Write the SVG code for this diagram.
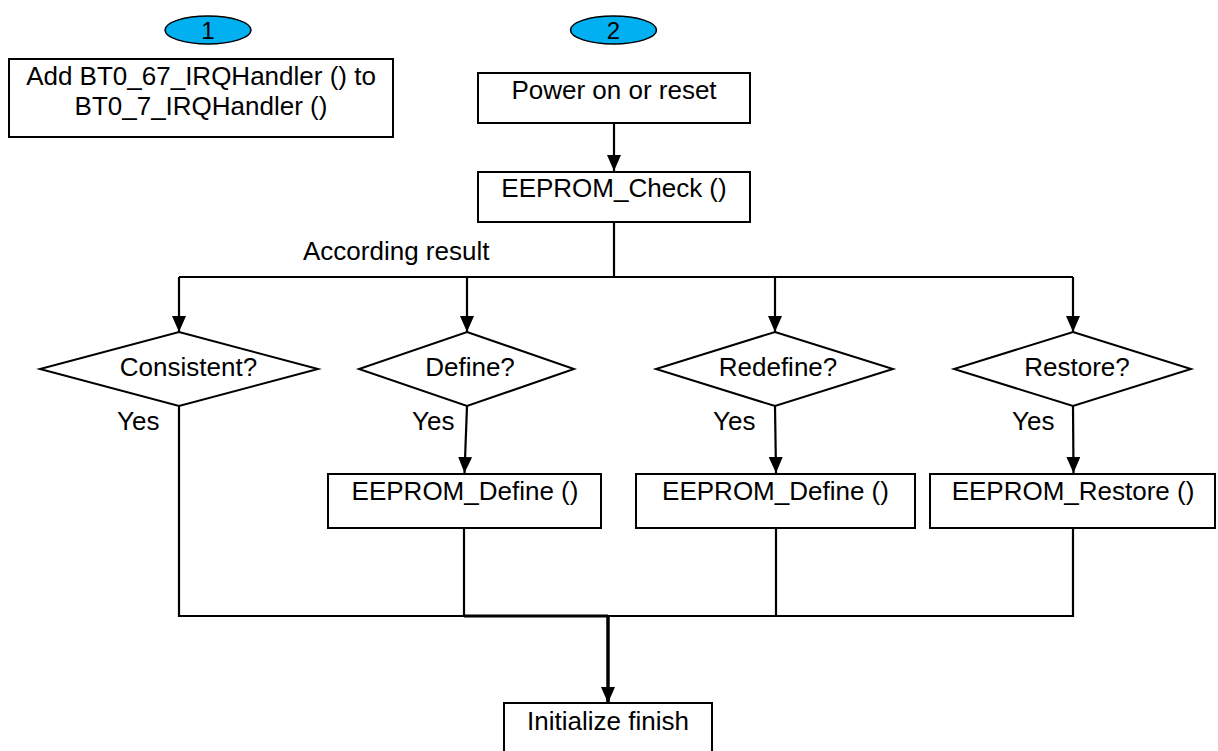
<svg xmlns="http://www.w3.org/2000/svg" width="1218" height="751" viewBox="0 0 1218 751">
<style>
text{font-family:"Liberation Sans",Arial,sans-serif;font-size:26px;fill:#000;}
.c{text-anchor:middle;}
.box{fill:#fff;stroke:#000;stroke-width:2;}
.ell{fill:#00B0F0;stroke:#000;stroke-width:1.5;}
.ln{fill:none;stroke:#000;stroke-width:2.2;}
.thick{fill:none;stroke:#000;stroke-width:3.5;}
.num{font-size:24px;}
</style>
<defs>
<marker id="ah" markerUnits="userSpaceOnUse" markerWidth="16" markerHeight="14" refX="16" refY="7" orient="auto" viewBox="0 0 16 14">
<path d="M0,0 L16,7 L0,14 Z" fill="#000"/>
</marker>
</defs>
<rect width="1218" height="751" fill="#fff"/>

<g id="connectors">
<path class="ln" d="M614,123 L614,171" marker-end="url(#ah)"/>
<path class="ln" d="M614,222 L614,277"/>
<path class="ln" d="M179,277 L1073,277"/>
<path class="ln" d="M179,277 L179,332" marker-end="url(#ah)"/>
<path class="ln" d="M467,277 L467,332" marker-end="url(#ah)"/>
<path class="ln" d="M775,277 L775,332" marker-end="url(#ah)"/>
<path class="ln" d="M1073,277 L1073,332" marker-end="url(#ah)"/>
<path class="ln" d="M467,406 L464.5,473" marker-end="url(#ah)"/>
<path class="ln" d="M775,406 L776,473" marker-end="url(#ah)"/>
<path class="ln" d="M1073,406 L1073.5,473" marker-end="url(#ah)"/>
<path class="ln" d="M179,406 L179,616 L1073,616 L1073,528"/>
<path class="ln" d="M464,528 L464,616"/>
<path class="ln" d="M776,528 L776,616"/>
<path class="ln" d="M464,616 L608,616" style="stroke-width:3"/>
<path class="thick" d="M608,616 L608,703" marker-end="url(#ah)"/>
<text x="303" y="260">According result</text>
<text x="117" y="430">Yes</text>
<text x="412" y="430">Yes</text>
<text x="713" y="430">Yes</text>
<text x="1012" y="430">Yes</text>
</g>

<g id="badge1">
<ellipse class="ell" cx="208" cy="30" rx="43" ry="14"/>
<text class="c num" x="208" y="39">1</text>
</g>
<g id="badge2">
<ellipse class="ell" cx="613.5" cy="30" rx="43" ry="14"/>
<text class="c num" x="613.5" y="39">2</text>
</g>

<g id="add_handler">
<rect class="box" x="9" y="59" width="384" height="78"/>
<text class="c" x="201" y="85">Add BT0_67_IRQHandler () to</text>
<text class="c" x="201" y="115">BT0_7_IRQHandler ()</text>
</g>

<g id="power_on">
<rect class="box" x="478" y="73" width="272" height="50"/>
<text class="c" x="614" y="99">Power on or reset</text>
</g>

<g id="eeprom_check">
<rect class="box" x="478" y="172" width="272" height="50"/>
<text class="c" x="614" y="197">EEPROM_Check ()</text>
</g>

<g id="consistent">
<polygon class="box" points="179,332 318,369 179,406 40,369"/>
<text class="c" x="188.5" y="376">Consistent?</text>
</g>
<g id="define_q">
<polygon class="box" points="467,332 574,369 467,406 359,369"/>
<text class="c" x="470" y="376">Define?</text>
</g>
<g id="redefine_q">
<polygon class="box" points="775,332 893,369 775,406 656,369"/>
<text class="c" x="778" y="376">Redefine?</text>
</g>
<g id="restore_q">
<polygon class="box" points="1073,332 1191,369 1073,406 954,369"/>
<text class="c" x="1077" y="376">Restore?</text>
</g>

<g id="define_box">
<rect class="box" x="328" y="474" width="273" height="54"/>
<text class="c" x="465" y="500">EEPROM_Define ()</text>
</g>
<g id="redefine_box">
<rect class="box" x="636" y="474" width="279" height="54"/>
<text class="c" x="775.5" y="500">EEPROM_Define ()</text>
</g>
<g id="restore_box">
<rect class="box" x="930" y="474" width="285" height="54"/>
<text class="c" x="1073" y="500">EEPROM_Restore ()</text>
</g>

<g id="init_finish">
<rect class="box" x="504" y="703" width="208" height="60"/>
<text class="c" x="608" y="730">Initialize finish</text>
</g>
</svg>
